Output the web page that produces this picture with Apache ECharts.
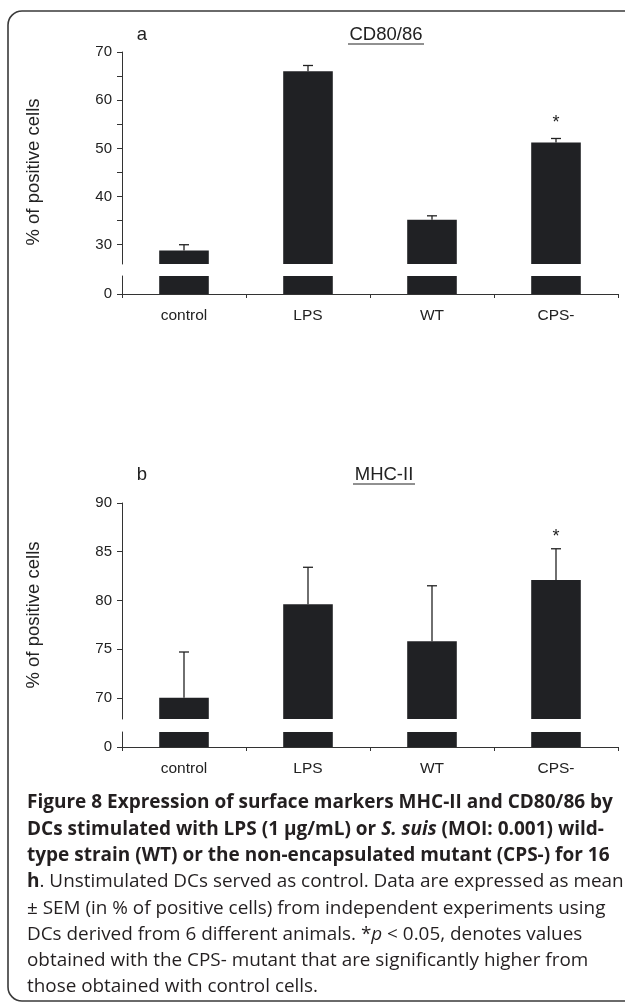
<!DOCTYPE html>
<html><head><meta charset="utf-8">
<script src="https://cdn.jsdelivr.net/npm/echarts@6/dist/echarts.min.js"></script>
<style>html,body{margin:0;padding:0;background:#fff}#c{width:625px;height:1003px}</style>
</head><body><div id="c"></div>
<script>
// ---- data ----
const categories = ['control', 'LPS', 'WT', 'CPS-'];
const cd80Values = [28.8, 66.0, 35.2, 51.2];
const cd80Errors = [1.2, 1.2, 0.8, 0.85];
const cd80Sig = ['', '', '', '*'];
const mhcValues = [70.0, 79.6, 75.8, 82.1];
const mhcErrors = [4.7, 3.8, 5.7, 3.2];
const mhcSig = ['', '', '', '*'];
const cd80TickLabels = [30, 40, 50, 60, 70];
const cd80TickMarks = [30, 35, 40, 45, 50, 55, 60, 65, 70];
const mhcTickLabels = [70, 75, 80, 85, 90];
const lowerTickLabels = [0];

// ---- styles ----
const FONT = "'Liberation Sans', Arial, sans-serif";
const CAP = "'Open Sans', 'Noto Sans', sans-serif";
const INK = '#222';
const BAR = '#202124';

const chart = echarts.init(document.getElementById('c'), null, {renderer: 'canvas'});

function yAxisCfg(grid, min, max, labels, ticks) {
  return {
    type: 'value', gridIndex: grid, min: min, max: max,
    splitLine: {show: false},
    axisLine: {show: true, lineStyle: {color: '#333', width: 1}},
    axisTick: {show: true, length: 5, lineStyle: {color: '#333'}, customValues: ticks},
    axisLabel: {customValues: labels, margin: 10, fontSize: 15, color: INK, fontFamily: FONT}
  };
}
function xAxisCfg(grid, visible) {
  return {
    type: 'category', gridIndex: grid, data: categories, show: visible,
    axisLine: {show: visible, lineStyle: {color: '#333', width: 1}},
    axisTick: {show: visible, length: 4, lineStyle: {color: '#333'}},
    axisLabel: {show: visible, margin: 14, fontSize: 15.5, color: INK, fontFamily: FONT}
  };
}
function barSeries(axisIdx, values) {
  return {
    type: 'bar', xAxisIndex: axisIdx, yAxisIndex: axisIdx, data: values,
    barWidth: '40%', clip: true, silent: true,
    itemStyle: {color: BAR}
  };
}
function errSeries(axisIdx, values, errors, sig, starGap) {
  return {
    type: 'custom', xAxisIndex: axisIdx, yAxisIndex: axisIdx, z: 5, silent: true,
    data: categories.map((c, i) => [i, values[i], values[i] + errors[i]]),
    renderItem: function (params, api) {
      const i = api.value(0);
      const base = api.coord([i, api.value(1)]);
      const top = api.coord([i, api.value(2)]);
      const st = {stroke: INK, lineWidth: 1.3};
      const children = [
        {type: 'line', shape: {x1: top[0], y1: base[1], x2: top[0], y2: top[1]}, style: st},
        {type: 'line', shape: {x1: top[0] - 5, y1: top[1], x2: top[0] + 5, y2: top[1]}, style: st}
      ];
      const s = sig[params.dataIndex];
      if (s) {
        children.push({type: 'text', x: top[0], y: top[1] - starGap,
          style: {text: s, fontSize: 18, fontFamily: FONT, fill: INK, align: 'center', verticalAlign: 'middle'}});
      }
      return {type: 'group', children: children};
    }
  };
}

const captionLines = [
  '{b|Figure 8 Expression of surface markers MHC-II and CD80/86 by}',
  '{b|DCs stimulated with LPS (1 µg/mL) or }{bi|S. suis}{b| (MOI: 0.001) wild-}',
  '{b|type strain (WT) or the non-encapsulated mutant (CPS-) for 16}',
  '{b|h}{r|. Unstimulated DCs served as control. Data are expressed as mean}',
  '{r|± SEM (in % of positive cells) from independent experiments using}',
  '{r|DCs derived from 6 different animals. *}{i|p}{r| < 0.05, denotes values}',
  '{r|obtained with the CPS- mutant that are significantly higher from}',
  '{r|those obtained with control cells.}'
];
const capB = 19;
const capR = 18.9;
const capRich = {
  b: {fontFamily: CAP, fontSize: capB, fontWeight: 'bold', fill: '#231f20'},
  bi: {fontFamily: CAP, fontSize: capB, fontWeight: 'bold', fontStyle: 'italic', fill: '#231f20'},
  r: {fontFamily: CAP, fontSize: capR, fill: '#231f20'},
  i: {fontFamily: CAP, fontSize: capR, fontStyle: 'italic', fill: '#231f20'}
};

const graphics = [
  {type: 'rect', shape: {x: 8, y: 11, width: 720, height: 990, r: 14},
   style: {fill: 'none', stroke: '#3a3a3a', lineWidth: 1.6}, silent: true},
  {type: 'text', x: 142, y: 35, style: {text: 'a', fontSize: 18.5, fontFamily: FONT, fill: INK, align: 'center', verticalAlign: 'middle'}},
  {type: 'text', x: 386, y: 35, style: {text: 'CD80/86', fontSize: 18.5, fontFamily: FONT, fill: INK, align: 'center', verticalAlign: 'middle'}},
  {type: 'line', shape: {x1: 348, y1: 44, x2: 424, y2: 44}, style: {stroke: INK, lineWidth: 1}},
  {type: 'text', x: 142, y: 475, style: {text: 'b', fontSize: 18.5, fontFamily: FONT, fill: INK, align: 'center', verticalAlign: 'middle'}},
  {type: 'text', x: 384, y: 475, style: {text: 'MHC-II', fontSize: 18.5, fontFamily: FONT, fill: INK, align: 'center', verticalAlign: 'middle'}},
  {type: 'line', shape: {x1: 353, y1: 484, x2: 415, y2: 484}, style: {stroke: INK, lineWidth: 1}},
  {type: 'text', x: 34, y: 172, rotation: Math.PI / 2,
   style: {text: '% of positive cells', fontSize: 18.5, fontFamily: FONT, fill: INK, align: 'center', verticalAlign: 'middle'}},
  {type: 'text', x: 34, y: 615, rotation: Math.PI / 2,
   style: {text: '% of positive cells', fontSize: 18.5, fontFamily: FONT, fill: INK, align: 'center', verticalAlign: 'middle'}}
];
captionLines.forEach((t, k) => {
  graphics.push({type: 'text', x: 27, y: 803 + k * 26.3,
    style: {text: t, rich: capRich, align: 'left', verticalAlign: 'middle'}});
});

chart.setOption({
  animation: false,
  backgroundColor: '#fff',
  grid: [
    {left: 122, width: 496, top: 52, height: 212},
    {left: 122, width: 496, top: 276, height: 18},
    {left: 122, width: 496, top: 503, height: 216},
    {left: 122, width: 496, top: 732, height: 15}
  ],
  xAxis: [xAxisCfg(0, false), xAxisCfg(1, true), xAxisCfg(2, false), xAxisCfg(3, true)],
  yAxis: [
    yAxisCfg(0, 26, 70, cd80TickLabels, cd80TickMarks),
    yAxisCfg(1, 0, 3.73, lowerTickLabels, lowerTickLabels),
    yAxisCfg(2, 67.82, 90, mhcTickLabels, mhcTickLabels),
    yAxisCfg(3, 0, 1.54, lowerTickLabels, lowerTickLabels)
  ],
  series: [
    barSeries(0, cd80Values), barSeries(1, cd80Values),
    barSeries(2, mhcValues), barSeries(3, mhcValues),
    errSeries(0, cd80Values, cd80Errors, cd80Sig, 15),
    errSeries(2, mhcValues, mhcErrors, mhcSig, 12)
  ],
  graphic: graphics
});
</script></body></html>
